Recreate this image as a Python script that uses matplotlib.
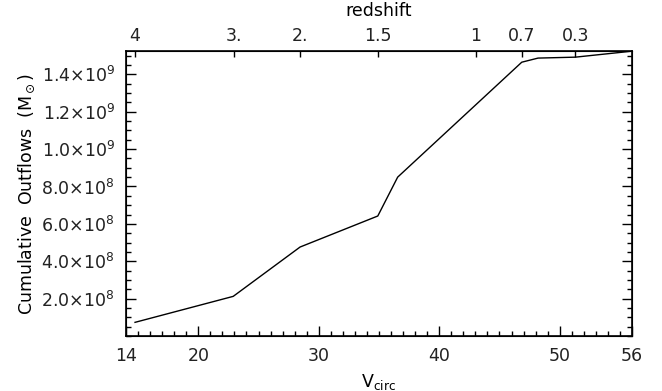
import matplotlib
matplotlib.use('Agg')
import matplotlib.pyplot as plt
from matplotlib.ticker import MultipleLocator

# curva de outflows acumulados
vcirc = [14.75, 22.9, 28.45, 34.9, 36.55, 46.85, 48.2, 51.3, 56.0]
outflows = [7.3e7, 2.12e8, 4.76e8, 6.42e8, 8.5e8, 1.465e9, 1.487e9, 1.492e9, 1.524e9]

# eixo de cima: redshift
z_labels = ['4', '3.', '2.', '1.5', '1', '0.7', '0.3']
z_vcirc = [14.75, 22.96, 28.44, 34.9, 43.05, 46.86, 51.3]

x_ticks = [14, 20, 30, 40, 50, 56]
y_ticks = [2e8, 4e8, 6e8, 8e8, 1.0e9, 1.2e9, 1.4e9]

plt.rcParams['font.family'] = 'DejaVu Sans'
plt.rcParams['font.size'] = 12.5
plt.rcParams['text.color'] = '#222222'

fig = plt.figure(figsize=(6.62, 3.91), dpi=100)
ax = fig.add_axes([0.1903, 0.1407, 0.7644, 0.7289])
ax.plot(vcirc, outflows, color='black', lw=1)

ax.set_xlim(14, 56)
ax.set_ylim(0, 1.525e9)
ax.set_xticks(x_ticks)
ax.set_xticklabels([str(t) for t in x_ticks])
ax.xaxis.set_minor_locator(MultipleLocator(1))
ax.set_yticks(y_ticks)
ax.set_yticklabels([r'%.1f$\times$10$^{%d}$' % (v / 10**int(f'{v:e}'[-2:]), int(f'{v:e}'[-2:])) for v in y_ticks])
ax.yaxis.set_minor_locator(MultipleLocator(5e7))
ax.tick_params(which='both', direction='in', right=True, top=False, width=1,
               labelcolor='#222222')
ax.tick_params(which='major', length=7, pad=8)
ax.tick_params(which='minor', length=3.5)
for s in ax.spines.values():
    s.set_linewidth(1.2)

ax.set_xlabel(r'V$_{\rm circ}$', labelpad=5)
ax.set_ylabel(r'Cumulative  Outflows  (M$_\odot$)', labelpad=3)

ax2 = ax.twiny()
ax2.set_xlim(14, 56)
ax2.set_xticks(z_vcirc)
ax2.set_xticklabels(z_labels)
ax2.tick_params(direction='in', length=4, width=1, pad=4, labelcolor='#222222')
ax2.set_xlabel('redshift', labelpad=8)

fig.savefig('out.png', dpi=100)
